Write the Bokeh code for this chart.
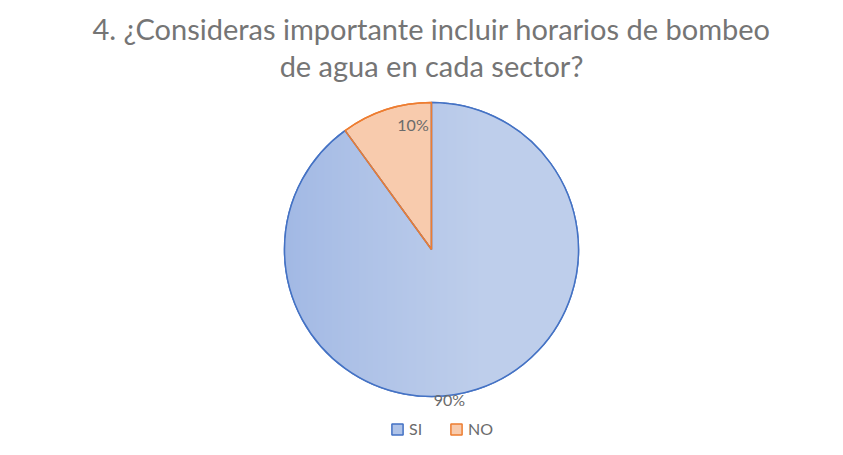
import math
import numpy as np
from bokeh.plotting import figure
from bokeh.models import Range1d, Legend, LegendItem
from bokeh.core.properties import value
from bokeh.embed import file_html
from bokeh.resources import INLINE

title_lines = ["4. ¿Consideras importante incluir horarios de bombeo", "de agua en cada sector?"]
categories = ["SI", "NO"]
values = [90, 10]
labels = ["90%", "10%"]
fills = ["#AFC3E8", "#F8CBAD"]
lines = ["#4472C4", "#ED7D31"]
grad_dark = (161, 184, 228)
grad_light = (190, 206, 235)

W, H = 827, 439
p = figure(width=W, height=H, output_backend="svg", toolbar_location=None,
           x_range=Range1d(0, W), y_range=Range1d(455 - H, 455),
           min_border=0, outline_line_color=None)
p.axis.visible = False
p.grid.visible = False
p.background_fill_color = "white"
p.border_fill_color = "white"

def Y(py):
    return 455 - py

cx, cy, r = 431, Y(249), 147
total = sum(values)
start = math.pi / 2
starts, ends, sweeps = [], [], []
for v in values:
    sweep = 2 * math.pi * v / total
    starts.append(start)
    ends.append(start - sweep)
    sweeps.append(sweep)
    start -= sweep

# base filled slices (used by the legend)
slice_r = []
for i in range(len(categories)):
    slice_r.append(p.wedge(x=cx, y=cy, radius=r, start_angle=ends[i], end_angle=starts[i],
                           fill_color=fills[i], line_color=lines[i], line_width=1.5))

# gradient fill image over the first slice (SI)
n = 2 * r
xs = cx - r + np.arange(n) + 0.5
ys = cy - r + np.arange(n) + 0.5
XX, YY = np.meshgrid(xs, ys)
dx, dy = XX - cx, YY - cy
dist = np.hypot(dx, dy)
ang = np.arctan2(dy, dx)
rel = np.mod(starts[0] - ang, 2 * np.pi)
mask = (dist <= r) & (rel <= sweeps[0])
t = np.clip((XX - (cx - r)) / (1.35 * r), 0, 1) ** 0.85
rgb = [np.round(grad_dark[k] + (grad_light[k] - grad_dark[k]) * t).astype(np.uint32) for k in range(3)]
alpha = np.where(mask, 255, 0).astype(np.uint32)
img = (alpha << 24) | (rgb[2] << 16) | (rgb[1] << 8) | rgb[0]
p.image_rgba(image=[img], x=cx - r, y=cy - r, dw=n, dh=n)

# outlines on top
p.wedge(x=cx, y=cy, radius=r, start_angle=ends[0], end_angle=starts[0],
        fill_color=None, line_color=lines[0], line_width=1.5)
for i in range(1, len(categories)):
    p.wedge(x=cx, y=cy, radius=r, start_angle=ends[i], end_angle=starts[i],
            fill_color=None, line_color=lines[i], line_width=1.5)

# data labels
lab_r = [158, 131]
lab_dx = [-31, 22]
for i in range(len(categories)):
    mid = (starts[i] + ends[i]) / 2
    lx = cx + lab_r[i] * math.cos(mid) + lab_dx[i]
    ly = cy + lab_r[i] * math.sin(mid)
    p.text(x=[lx], y=[ly], text=[labels[i]], text_font=value("Lato"),
           text_font_size="16px", text_color="#6b6b6b",
           text_align="center", text_baseline="middle")

# title
for k, tt in enumerate(title_lines):
    p.text(x=[431], y=[Y(28 + 37 * k)], text=[tt], text_font=value("Lato"),
           text_font_size="29px", text_color="#757575",
           text_align="center", text_baseline="middle")

legend = Legend(items=[LegendItem(label=categories[i], renderers=[slice_r[i]]) for i in range(len(categories))],
                orientation="horizontal", location=(390, 1),
                glyph_width=14, glyph_height=14, spacing=20, label_standoff=5,
                padding=0, margin=0, border_line_color=None, background_fill_alpha=0,
                label_text_font="Lato", label_text_font_size="16px", label_text_color="#6b6b6b")
p.add_layout(legend)

open("out.html", "w").write(file_html(p, INLINE))
